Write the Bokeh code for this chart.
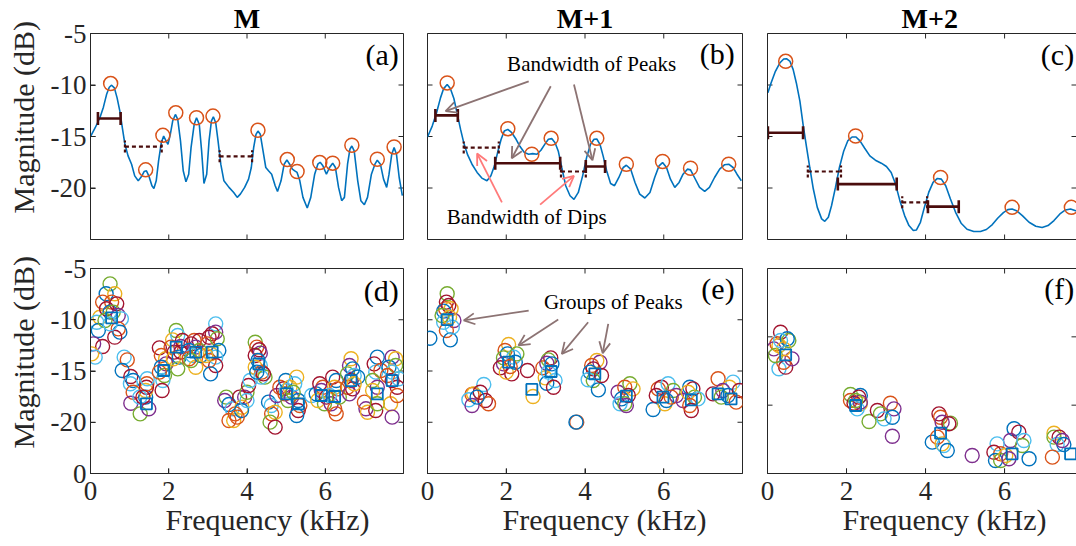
import numpy as np
from bokeh.plotting import figure
from bokeh.models import Range1d, LinearAxis, FixedTicker, Label, Arrow, OpenHead, Title
from bokeh.layouts import column, row
from bokeh.embed import file_html
from bokeh.resources import INLINE

# ---------------- data ----------------
X_TICKS = [0, 2, 4, 6]
X_TICK_LABELS = ["0", "2", "4", "6"]
Y_TICKS_TOP = [-20, -15, -10, -5]
Y_TICK_LABELS_TOP = ["-20", "-15", "-10", "-5"]
Y_TICKS_BOTTOM = [-25, -20, -15, -10, -5]
Y_TICK_LABELS_BOTTOM = ["0", "-20", "-15", "-10", "-5"]
Y_TICKS_F = [-20, -10]

# panel (a): spectrum at M
A_FREQ = [0.01, 0.12, 0.24, 0.33, 0.41, 0.48, 0.54, 0.61, 0.68, 0.75, 0.82, 0.88, 0.96, 1.05, 1.13,
          1.22, 1.30, 1.37, 1.43, 1.49, 1.57, 1.62, 1.68, 1.74, 1.81, 1.87, 1.93, 1.98, 2.04, 2.10,
          2.17, 2.23, 2.30, 2.37, 2.44, 2.51, 2.57, 2.65, 2.71, 2.78, 2.84, 2.90, 2.97, 3.03, 3.09,
          3.14, 3.20, 3.26, 3.33, 3.41, 3.54, 3.66, 3.75, 3.83, 3.94, 4.04, 4.11, 4.17, 4.23, 4.28,
          4.34, 4.41, 4.48, 4.55, 4.63, 4.72, 4.78, 4.87, 4.95, 5.02, 5.09, 5.16, 5.22, 5.28, 5.35,
          5.43, 5.54, 5.63, 5.73, 5.81, 5.87, 5.94, 6.03, 6.11, 6.19, 6.26, 6.34, 6.42, 6.49, 6.57,
          6.63, 6.68, 6.74, 6.83, 6.91, 7.00, 7.08, 7.18, 7.27, 7.33, 7.41, 7.49, 7.57, 7.63, 7.70,
          7.76, 7.82, 7.89, 7.97]
A_MAG = [-14.95, -14.15, -13.18, -12.15, -10.93, -10.22, -10.02, -10.28, -11.25, -12.54, -14.31, -15.76,
         -16.88, -17.69, -18.82, -19.30, -18.91, -18.40, -18.33, -18.82, -19.78, -20.04, -19.30, -17.37,
         -15.60, -14.95, -15.43, -15.76, -14.79, -13.50, -12.86, -13.34, -15.43, -18.33, -19.40, -18.66,
         -16.08, -13.82, -13.18, -13.82, -16.40, -19.56, -18.66, -15.43, -13.50, -13.08, -13.66, -15.43,
         -17.69, -19.30, -19.94, -20.43, -20.91, -20.59, -19.94, -19.14, -18.01, -16.08, -14.79, -14.47,
         -14.79, -16.40, -18.01, -18.33, -18.66, -19.78, -20.33, -19.30, -17.69, -17.27, -17.69, -18.17,
         -18.33, -18.49, -19.30, -20.91, -21.94, -20.91, -18.66, -17.69, -17.50, -17.85, -18.66, -18.01,
         -17.59, -18.01, -19.94, -21.23, -20.91, -17.69, -16.24, -15.92, -16.40, -19.30, -21.23, -21.62,
         -20.91, -18.66, -17.69, -17.30, -17.69, -19.14, -19.94, -18.66, -16.72, -16.08, -16.72, -18.98,
         -20.75]
A_PEAK_FREQ = [0.515, 1.41, 1.85, 2.18, 2.71, 3.13, 4.28, 5.03, 5.28, 5.86, 6.19, 6.68, 7.33, 7.76]
A_PEAK_MAG = [-9.86, -18.24, -14.89, -12.70, -13.18, -13.02, -14.40, -17.24, -18.40, -17.53, -17.59,
              -15.85, -17.21, -16.01]
A_PEAKBW_START = [0.19]
A_PEAKBW_END = [0.77]
A_PEAKBW_LEVEL = [-13.25]
A_DIPBW_START = [0.88, 3.30]
A_DIPBW_END = [1.82, 4.13]
A_DIPBW_LEVEL = [-15.98, -16.92]

# panel (b): spectrum at M+1
B_FREQ = [0.00, 0.12, 0.23, 0.33, 0.41, 0.50, 0.58, 0.67, 0.75, 0.84, 0.92, 1.02, 1.13, 1.26, 1.38,
          1.51, 1.61, 1.70, 1.78, 1.87, 1.95, 2.04, 2.14, 2.25, 2.35, 2.46, 2.57, 2.67, 2.78, 2.88,
          2.99, 3.07, 3.16, 3.24, 3.32, 3.41, 3.51, 3.62, 3.72, 3.83, 3.94, 4.04, 4.14, 4.23, 4.30,
          4.38, 4.46, 4.55, 4.65, 4.75, 4.86, 4.97, 5.05, 5.16, 5.27, 5.39, 5.52, 5.65, 5.77, 5.88,
          5.97, 6.07, 6.17, 6.28, 6.39, 6.49, 6.60, 6.68, 6.78, 6.91, 7.04, 7.16, 7.29, 7.42, 7.54,
          7.65, 7.76, 7.86, 7.97]
B_MAG = [-15.05, -13.99, -12.70, -11.25, -10.35, -9.96, -10.35, -11.31, -12.70, -14.31, -15.60, -16.79,
         -17.69, -18.49, -19.04, -19.30, -18.82, -17.85, -16.56, -15.27, -14.47, -14.31, -14.63, -15.27,
         -15.98, -16.56, -16.72, -16.66, -16.72, -16.34, -15.69, -15.27, -15.21, -15.60, -16.40, -18.01,
         -19.78, -20.75, -21.10, -20.43, -18.82, -17.05, -15.76, -15.27, -15.24, -15.76, -16.88, -18.33,
         -19.56, -19.78, -18.98, -18.01, -17.79, -18.17, -19.46, -20.59, -20.97, -20.43, -18.98, -17.85,
         -17.53, -18.01, -19.14, -19.94, -19.46, -18.66, -18.17, -18.24, -18.98, -19.94, -20.33, -19.94,
         -18.98, -18.17, -17.75, -17.69, -18.01, -18.66, -19.30]
B_PEAK_FREQ = [0.50, 2.04, 2.65, 3.14, 4.30, 5.05, 5.97, 6.68, 7.65]
B_PEAK_MAG = [-9.80, -14.24, -16.72, -15.18, -15.18, -17.69, -17.43, -18.08, -17.69]
B_PEAKBW_START = [0.20, 1.72, 4.02]
B_PEAKBW_END = [0.77, 3.37, 4.51]
B_PEAKBW_LEVEL = [-12.95, -17.59, -17.91]
B_DIPBW_START = [0.92, 3.39]
B_DIPBW_END = [1.81, 4.02]
B_DIPBW_LEVEL = [-16.08, -18.40]

# panel (c): spectrum at M+2
C_FREQ = [0.01, 0.09, 0.20, 0.31, 0.41, 0.48, 0.57, 0.65, 0.73, 0.82, 0.90, 0.99, 1.07, 1.16, 1.26,
          1.37, 1.45, 1.54, 1.62, 1.72, 1.82, 1.93, 2.03, 2.14, 2.24, 2.34, 2.46, 2.59, 2.73, 2.88,
          3.01, 3.13, 3.24, 3.35, 3.47, 3.58, 3.69, 3.77, 3.87, 3.97, 4.08, 4.19, 4.30, 4.40, 4.51,
          4.63, 4.76, 4.90, 5.05, 5.22, 5.39, 5.54, 5.69, 5.83, 5.97, 6.08, 6.19, 6.30, 6.45, 6.62,
          6.79, 6.95, 7.10, 7.25, 7.40, 7.54, 7.67, 7.80, 7.88]
C_MAG = [-10.76, -9.80, -8.67, -7.87, -7.48, -7.45, -7.71, -8.51, -9.80, -11.57, -13.82, -16.08, -18.01,
         -20.10, -21.88, -23.00, -23.23, -22.84, -21.72, -19.94, -18.01, -16.40, -15.43, -15.05, -15.05,
         -15.43, -16.14, -16.88, -17.30, -17.59, -17.91, -18.49, -19.62, -21.23, -22.68, -23.65, -24.13,
         -24.07, -23.33, -21.88, -20.43, -19.46, -19.07, -19.14, -19.78, -21.07, -22.36, -23.42, -24.00,
         -24.23, -24.23, -24.03, -23.55, -22.91, -22.39, -22.10, -22.04, -22.20, -22.68, -23.33, -23.71,
         -23.84, -23.65, -23.16, -22.52, -22.13, -22.04, -22.20, -22.30]
C_PEAK_FREQ = [0.46, 2.23, 4.38, 6.19, 7.69]
C_PEAK_MAG = [-7.70, -14.95, -18.98, -21.88, -21.88]
C_PEAKBW_START = [0.01, 1.78, 4.06]
C_PEAKBW_END = [0.90, 3.27, 4.84]
C_PEAKBW_LEVEL = [-14.63, -19.62, -21.81]
C_DIPBW_START = [1.02, 3.41]
C_DIPBW_END = [1.86, 4.04]
C_DIPBW_LEVEL = [-18.40, -21.39]

# panel (d): peaks of all utterances at M (set = utterance colour index 1..7)
D_FREQ = [0.50, 0.40, 0.62, 0.31, 0.54, 0.67, 0.24, 0.16, 0.50, 0.41, 0.58, 0.71, 0.79, 0.71, 0.75,
          0.62, 0.20, 0.08, 0.31, 0.03, 0.12, 0.37, 0.50,
          0.86, 0.94, 0.81, 1.03, 1.09, 1.02, 1.09, 1.03, 1.27, 1.41, 1.41, 1.44, 1.43, 1.45, 1.49,
          1.26, 1.34,
          1.76, 1.81, 1.92, 1.93, 1.81, 1.89, 1.85, 1.83, 1.76,
          2.19, 2.23, 2.10, 2.06, 2.35, 2.14, 2.31, 2.27, 2.23, 2.12, 2.31,
          2.65, 2.78, 2.57, 2.69, 2.52, 2.78, 2.61, 2.69, 2.52, 2.82, 2.57,
          3.20, 3.11, 3.20, 3.03, 3.24, 2.99, 3.28, 3.07, 3.20, 3.03, 3.20, 3.07, 2.95,
          3.47, 3.43, 3.54, 3.62, 3.54, 3.66, 3.70, 3.81, 3.94, 3.87, 3.86, 4.00, 4.00, 4.04, 4.08, 3.75,
          4.21, 4.25, 4.31, 4.34, 4.21, 4.28, 4.34, 4.21, 4.38, 4.46, 4.36, 4.42, 4.25,
          4.55, 4.62, 4.63, 4.72, 4.59, 4.72, 4.76, 4.84, 4.93, 4.97, 5.01, 4.99, 5.10, 5.05, 5.14,
          5.27, 5.22, 5.31, 5.35, 5.31, 5.27, 5.18,
          5.65, 5.77, 5.86, 5.94, 5.90, 5.98, 5.81, 6.03, 6.19, 6.28, 6.24, 6.32, 6.15, 6.24, 6.28,
          6.11, 6.36,
          6.66, 6.62, 6.70, 6.57, 6.74, 6.66, 6.57, 6.70, 6.62, 6.83, 6.74,
          7.04, 7.08, 7.00, 7.33, 7.25, 7.29, 7.42, 7.21, 7.33, 7.21, 7.29, 7.33, 7.71, 7.80, 7.63,
          7.80, 7.71, 7.59, 7.71, 7.84, 7.67, 7.71, 7.84, 7.88]
D_MAG = [-6.50, -7.47, -7.47, -8.28, -8.28, -8.45, -9.75, -10.24, -9.26, -8.93, -9.26, -9.59, -9.91,
         -10.89, -11.21, -11.70, -11.05, -12.35, -12.61, -13.33, -13.65, -10.07, -10.40,
         -13.65, -13.91, -14.95, -15.54, -15.93, -16.25, -17.07, -18.14, -19.18, -17.55, -16.90, -16.25,
         -16.58, -15.76, -18.69, -17.55, -17.55,
         -12.74, -13.49, -13.81, -14.30, -14.63, -15.44, -15.93, -16.90, -15.11,
         -11.05, -11.54, -11.96, -12.67, -12.02, -13.16, -12.61, -13.65, -14.79, -13.81, -13.16,
         -12.02, -12.02, -12.35, -12.67, -13.00, -13.00, -13.49, -14.63, -13.81, -13.49, -13.98,
         -10.40, -11.37, -11.21, -11.70, -11.86, -12.35, -13.00, -13.33, -13.65, -13.98, -14.46, -15.28,
         -13.49,
         -17.55, -17.88, -18.27, -18.69, -19.83, -19.83, -19.18, -17.55, -17.55, -18.53, -18.85, -17.88,
         -17.07, -16.41, -15.93, -19.50,
         -12.19, -12.67, -12.93, -13.26, -13.49, -13.98, -14.46, -14.63, -15.11, -15.60, -15.60, -15.28,
         -15.11,
         -18.04, -18.37, -19.18, -19.02, -19.99, -20.48, -17.39, -16.58, -16.74, -17.23, -16.90, -15.93,
         -16.58, -17.88, -17.55, -15.60, -16.25, -17.88, -18.37, -18.85, -19.34, -17.07,
         -17.39, -17.23, -16.25, -16.58, -16.90, -18.20, -17.88, -17.55, -15.60, -15.93, -16.58, -16.74,
         -18.20, -18.69, -19.18, -17.39, -17.55,
         -13.81, -14.46, -14.79, -15.28, -15.44, -15.93, -16.58, -16.74, -17.23, -15.60, -16.25,
         -18.69, -19.02, -18.04, -13.65, -14.30, -15.11, -14.95, -15.93, -16.58, -16.90, -18.85, -18.20,
         -13.65, -13.81, -14.63, -14.46, -15.11, -15.44, -15.93, -16.58, -18.20, -19.50, -17.39, -15.76]
D_SET = [5, 1, 3, 2, 2, 7, 3, 6, 1, 7, 5, 4, 6, 2, 1, 7, 1, 4, 7, 3, 6, 5, 6,
         6, 2, 1, 7, 1, 6, 2, 4, 5, 1, 3, 2, 7, 6, 4, 6, 7,
         7, 2, 3, 4, 1, 5, 6, 7, 2,
         5, 6, 3, 2, 7, 7, 4, 1, 5, 3, 7,
         2, 7, 7, 4, 1, 5, 6, 3, 2, 1, 5,
         6, 7, 4, 7, 5, 2, 1, 3, 6, 2, 7, 1, 3,
         5, 4, 1, 6, 2, 3, 2, 7, 4, 3, 1, 6, 5, 7, 6, 2,
         5, 2, 7, 4, 7, 1, 6, 3, 2, 5, 6, 7, 1,
         1, 6, 2, 3, 5, 7, 4, 2, 7, 2, 6, 1, 3, 5, 4, 3, 6, 1, 2, 7, 1, 5,
         6, 1, 7, 2, 4, 5, 3, 7, 7, 1, 3, 2, 4, 2, 2, 6, 5,
         3, 4, 1, 5, 6, 7, 2, 7, 4, 1, 3,
         4, 3, 2, 1, 7, 6, 2, 5, 4, 3, 7, 5, 4, 3, 1, 5, 6, 2, 7, 7, 3, 4, 2, 6]
D_CENTER_FREQ = [0.54, 1.43, 1.87, 2.19, 2.69, 3.11, 4.30, 5.01, 5.31, 5.90, 6.24, 6.66, 7.33, 7.71]
D_CENTER_MAG = [-9.81, -18.20, -14.95, -12.67, -13.16, -13.16, -14.30, -17.23, -18.20, -17.39, -17.49,
                -15.93, -17.23, -15.93]

# panel (e): peaks of all utterances at M+1
E_FREQ = [0.06,
          0.50, 0.48, 0.46, 0.60, 0.41, 0.54, 0.67, 0.41, 0.48, 0.58, 0.37, 0.56, 0.63,
          1.43, 1.13, 1.17, 1.05, 1.13, 1.34, 1.47, 1.55, 1.26,
          2.06, 1.97, 2.03, 1.93, 1.93, 1.85, 2.19, 2.14, 2.00, 2.23, 2.10, 2.27,
          2.54, 2.68,
          3.13, 3.07, 2.93, 3.03, 2.99, 3.03, 3.24, 3.20, 3.16, 3.07,
          3.79, 3.77,
          4.38, 4.30, 4.17, 4.21, 4.13, 4.21, 4.08, 4.34, 4.42,
          4.84, 5.14, 5.01, 5.22, 4.93, 4.89, 5.10, 5.01, 5.05,
          5.73, 5.86, 5.94, 6.11, 6.24, 6.03, 6.32, 5.81, 6.07, 6.19,
          6.66, 6.74, 6.49, 6.78, 6.62, 6.87, 6.70, 6.66,
          7.38, 7.76, 7.67, 7.25, 7.50, 7.46, 7.63, 7.92, 7.84]
E_MAG = [-11.80,
         -7.47, -8.28, -8.93, -8.93, -9.16, -8.61, -10.07, -10.24, -11.05, -11.96, -9.59, -9.75, -10.72,
         -16.32, -17.29, -17.23, -17.81, -18.37, -17.07, -17.88, -18.20, -17.55,
         -12.41, -13.00, -13.33, -13.72, -14.30, -14.69, -13.65, -15.28, -15.11, -14.14, -14.56, -13.33,
         -14.95, -17.49,
         -13.72, -13.91, -14.69, -14.24, -15.67, -16.19, -15.93, -16.58, -14.30, -15.11,
         -19.99, -19.99,
         -14.14, -13.98, -14.46, -14.79, -15.11, -15.93, -15.86, -16.84, -15.44,
         -17.07, -16.25, -16.58, -16.74, -17.72, -18.20, -17.39, -18.20, -18.37,
         -18.76, -16.74, -16.58, -16.25, -16.90, -18.20, -17.39, -17.39, -17.88, -17.55,
         -16.58, -16.74, -17.88, -17.55, -17.07, -17.72, -18.85, -18.37,
         -15.76, -16.09, -16.58, -17.23, -16.90, -17.55, -17.39, -16.90, -18.04]
E_SET = [1,
         5, 7, 2, 3, 1, 7, 4, 6, 2, 1, 5, 3, 6,
         6, 2, 3, 6, 4, 7, 7, 2, 1,
         3, 2, 1, 5, 4, 7, 6, 7, 3, 1, 2, 5,
         7, 3,
         7, 5, 2, 4, 3, 1, 6, 7, 1, 6,
         2, 1,
         4, 3, 2, 7, 1, 5, 6, 1, 7,
         4, 5, 2, 3, 1, 6, 7, 5, 4,
         1, 2, 7, 6, 5, 3, 4, 7, 1, 2,
         1, 7, 4, 5, 3, 6, 7, 2,
         2, 6, 3, 7, 4, 5, 1, 7, 2]
E_CENTER_FREQ = [0.50, 2.06, 2.65, 3.14, 4.25, 5.05, 5.98, 6.70, 7.38, 7.71]
E_CENTER_MAG = [-9.98, -14.14, -16.80, -15.05, -15.28, -17.45, -17.55, -17.81, -17.23, -17.72]

# panel (f): peaks of all utterances at M+2 (axis spans -30..0)
F_FREQ = [0.33, 0.24, 0.29, 0.16, 0.54, 0.50, 0.29, 0.46, 0.41, 0.20, 0.62, 0.41, 0.33,
          2.10, 2.35, 2.10, 2.35, 2.27, 2.31, 2.19, 2.35, 2.23,
          2.57, 2.78, 3.11, 3.20, 2.86, 2.95, 3.16, 3.16,
          4.34, 4.38, 4.42, 4.63, 4.59, 4.17, 4.30, 4.42, 4.46, 4.55,
          5.18,
          6.24, 6.36, 6.15, 6.45, 5.81, 5.90, 5.73, 5.77, 5.90, 6.03, 6.49, 6.62, 6.11,
          7.25, 7.25, 7.38, 7.33, 7.50, 7.46, 7.21]
F_MAG = [-9.32, -11.02, -11.27, -11.76, -10.54, -10.29, -14.68, -14.44, -13.71, -12.73, -13.22, -11.76,
         -10.54,
         -18.44, -18.59, -19.32, -19.80, -20.54, -18.83, -19.71, -19.56, -19.32,
         -22.39, -20.78, -19.71, -20.54, -21.27, -22.00, -21.76, -24.54,
         -21.27, -21.76, -22.49, -22.63, -22.73, -25.41, -24.68, -25.66, -25.90, -26.63,
         -27.37,
         -23.46, -23.95, -25.17, -25.90, -25.66, -27.12, -26.88, -28.10, -28.10, -27.37, -25.17, -27.85,
         -27.85,
         -24.10, -24.68, -24.68, -25.76, -25.76, -25.17, -27.61]
F_SET = [7, 2, 3, 4, 5, 1, 6, 7, 2, 5, 4, 3, 6,
         5, 1, 2, 3, 6, 7, 7, 4, 5,
         5, 7, 2, 4, 5, 6, 1, 4,
         7, 2, 4, 5, 7, 1, 2, 3, 6, 1,
         4,
         1, 7, 4, 5, 6, 2, 7, 1, 5, 3, 6, 1, 4,
         3, 5, 7, 6, 1, 4, 2]
F_CENTER_FREQ = [0.46, 2.23, 4.38, 6.19, 7.67]
F_CENTER_MAG = [-12.63, -20.05, -24.10, -27.12, -27.12]

# ---------------- style ----------------
FONT = "Liberation Serif"
AXC = "#262626"
CURVE = "#0072BD"
PEAKC = "#D95319"
BWC = "#4A0C0C"
ARROW_GRAY = "#8C7373"
ARROW_PINK = "#FF7A7A"
SET_COLORS = ["#0072BD", "#D95319", "#EDB120", "#7E2F8E", "#77AC30", "#4DBEEE", "#A2142F"]
TICK_FONT = "27px"
LABEL_FONT = "30px"


def labelled_axis(ticks, labels, standoff):
    ax = LinearAxis(ticker=FixedTicker(ticks=ticks))
    ax.major_label_overrides = dict(zip(ticks, labels))
    ax.axis_line_color = AXC
    ax.major_tick_line_color = AXC
    ax.major_tick_in = 5
    ax.major_tick_out = 0
    ax.minor_tick_line_color = None
    ax.major_label_text_font = FONT
    ax.major_label_text_font_size = TICK_FONT
    ax.major_label_text_color = AXC
    ax.major_label_standoff = standoff
    return ax


def edge_line():
    # plain frame edge: an axis with no ticks and therefore no labels
    ax = LinearAxis(ticker=FixedTicker(ticks=[]))
    ax.axis_line_color = AXC
    ax.major_tick_line_color = None
    ax.minor_tick_line_color = None
    ax.major_label_standoff = 0
    ax.major_tick_out = 0
    ax.major_tick_in = 0
    return ax


def make_panel(width, height, bl, br, bt, bb, x_end, y_rng, yticks, title=None, title_align="center",
               title_offset=0, open_right=False):
    p = figure(width=width, height=height, x_range=Range1d(0, x_end), y_range=Range1d(*y_rng),
               output_backend="svg", toolbar_location=None, x_axis_location=None,
               y_axis_location=None, min_border_left=bl, min_border_right=br,
               min_border_top=bt, min_border_bottom=bb)
    p.grid.visible = False
    p.background_fill_color = "white"
    p.border_fill_color = "white"
    if open_right:
        p.outline_line_color = None
        p.add_layout(edge_line(), "left")
        p.add_layout(edge_line(), "above")
        p.add_layout(edge_line(), "below")
    else:
        p.outline_line_color = AXC
        p.outline_line_width = 1
    if title is not None:
        p.title.text = title
        p.title.text_font = FONT
        p.title.text_font_size = "28px"
        p.title.text_font_style = "bold"
        p.title.text_color = "black"
        p.title.align = title_align
        p.title.offset = title_offset
        p.title.standoff = 0
    # inward tick marks on the frame edges (markers are clipped by the frame, so half shows)
    n = len(X_TICKS)
    m = len(yticks)
    p.scatter(X_TICKS, [y_rng[1]] * n, marker="dash", angle=np.pi / 2, size=10, line_color=AXC,
              line_width=1)
    p.scatter(X_TICKS, [y_rng[0]] * n, marker="dash", angle=np.pi / 2, size=10, line_color=AXC,
              line_width=1)
    p.scatter([0] * m, yticks, marker="dash", size=10, line_color=AXC, line_width=1)
    p.scatter([x_end] * m, yticks, marker="dash", size=10, line_color=AXC, line_width=1)
    return p


def add_text(p, x, y, text, size, align="center"):
    p.add_layout(Label(x=x, y=y, text=text, text_font=FONT, text_font_size=size,
                       text_align=align, text_baseline="middle", text_color="black"))


def add_ylabel(p, offset):
    p.add_layout(Title(text="Magnitude (dB)", text_font=FONT, text_font_size=LABEL_FONT,
                       text_font_style="normal", text_color=AXC, align="left", offset=offset,
                       vertical_align="top", standoff=12), "left")


def add_xlabel(p, offset):
    p.add_layout(Title(text="Frequency (kHz)", text_font=FONT, text_font_size=LABEL_FONT,
                       text_font_style="normal", text_color=AXC, align="left", offset=offset,
                       vertical_align="top", standoff=0), "below")


def draw_spectrum(p, freq, mag, pk_f, pk_m, pbs, pbe, pbl, dbs, dbe, dbl):
    p.line(freq, mag, line_color=CURVE, line_width=1.6)
    p.segment(x0=dbs, y0=dbl, x1=dbe, y1=dbl, line_color=BWC, line_width=2.2, line_dash="4 3")
    p.scatter(x=dbs + dbe, y=dbl + dbl, marker="dash", angle=np.pi / 2, size=12,
              line_color=BWC, line_width=2.2, line_dash="3 2")
    p.segment(x0=pbs, y0=pbl, x1=pbe, y1=pbl, line_color=BWC, line_width=2.6)
    p.scatter(x=pbs + pbe, y=pbl + pbl, marker="dash", angle=np.pi / 2, size=13,
              line_color=BWC, line_width=2.6)
    p.scatter(pk_f, pk_m, marker="circle", size=14, fill_color=None, line_color=PEAKC,
              line_width=1.5)


def draw_groups(p, freq, mag, sets, cf, cm):
    colors = [SET_COLORS[s - 1] for s in sets]
    p.scatter(freq, mag, marker="circle", size=14, fill_color=None, line_color=colors,
              line_width=1.4)
    p.scatter(cf, cm, marker="square", size=11, fill_color=None, line_color=SET_COLORS[0],
              line_width=1.8)


TOP_H, BOT_H = 250, 296
W_A, W_B, W_C = 415, 340, 321
XEND_C = 7.82

pa = make_panel(W_A, TOP_H, 87, 12, 32, 11, 8, (-25, -5), Y_TICKS_TOP, title="M")
pb = make_panel(W_B, TOP_H, 12, 13, 32, 11, 8, (-25, -5), Y_TICKS_TOP, title="M+1")
pc = make_panel(W_C, TOP_H, 12, 0, 32, 11, XEND_C, (-25, -5), Y_TICKS_TOP, title="M+2",
                title_align="left", title_offset=134, open_right=True)
pd_ = make_panel(W_A, BOT_H, 87, 12, 18, 73, 8, (-25, -5), Y_TICKS_BOTTOM)
pe = make_panel(W_B, BOT_H, 12, 13, 18, 73, 8, (-25, -5), Y_TICKS_BOTTOM)
pf = make_panel(W_C, BOT_H, 12, 0, 18, 73, XEND_C, (-30, 0), Y_TICKS_F, open_right=True)

# labelled axes
pa.add_layout(labelled_axis(Y_TICKS_TOP, Y_TICK_LABELS_TOP, 4), "left")
pd_.add_layout(labelled_axis(Y_TICKS_BOTTOM, Y_TICK_LABELS_BOTTOM, 4), "left")
for p in (pd_, pe, pf):
    p.add_layout(labelled_axis(X_TICKS, X_TICK_LABELS, 8), "below")
add_ylabel(pa, 26)
add_ylabel(pd_, 25)
add_xlabel(pd_, 75)
add_xlabel(pe, 75)
add_xlabel(pf, 75)

draw_spectrum(pa, A_FREQ, A_MAG, A_PEAK_FREQ, A_PEAK_MAG, A_PEAKBW_START, A_PEAKBW_END,
              A_PEAKBW_LEVEL, A_DIPBW_START, A_DIPBW_END, A_DIPBW_LEVEL)
draw_spectrum(pb, B_FREQ, B_MAG, B_PEAK_FREQ, B_PEAK_MAG, B_PEAKBW_START, B_PEAKBW_END,
              B_PEAKBW_LEVEL, B_DIPBW_START, B_DIPBW_END, B_DIPBW_LEVEL)
draw_spectrum(pc, C_FREQ, C_MAG, C_PEAK_FREQ, C_PEAK_MAG, C_PEAKBW_START, C_PEAKBW_END,
              C_PEAKBW_LEVEL, C_DIPBW_START, C_DIPBW_END, C_DIPBW_LEVEL)
draw_groups(pd_, D_FREQ, D_MAG, D_SET, D_CENTER_FREQ, D_CENTER_MAG)
draw_groups(pe, E_FREQ, E_MAG, E_SET, E_CENTER_FREQ, E_CENTER_MAG)
draw_groups(pf, F_FREQ, F_MAG, F_SET, F_CENTER_FREQ, F_CENTER_MAG)

# panel letters
add_text(pa, 7.88, -7.06, "(a)", "30px", align="right")
add_text(pb, 7.80, -6.95, "(b)", "30px", align="right")
add_text(pc, 7.76, -7.06, "(c)", "30px", align="right")
add_text(pd_, 7.88, -7.15, "(d)", "30px", align="right")
add_text(pe, 7.80, -6.98, "(e)", "30px", align="right")
add_text(pf, 7.76, -2.98, "(f)", "30px", align="right")

# annotations in (b)
add_text(pb, 4.17, -7.93, "Bandwidth of Peaks", "21px")
add_text(pb, 2.52, -22.84, "Bandwidth of Dips", "21px")
for xs, ys, xe, ye in [(2.57, -9.64, 0.46, -12.54), (3.13, -10.12, 2.14, -17.11),
                       (3.72, -9.96, 4.19, -17.30)]:
    pb.add_layout(Arrow(end=OpenHead(size=11, line_color=ARROW_GRAY, line_width=1.8),
                        x_start=xs, y_start=ys, x_end=xe, y_end=ye,
                        line_color=ARROW_GRAY, line_width=1.8))
for xs, ys, xe, ye in [(1.89, -21.39, 1.26, -16.66), (2.86, -21.62, 3.72, -18.82)]:
    pb.add_layout(Arrow(end=OpenHead(size=11, line_color=ARROW_PINK, line_width=1.8),
                        x_start=xs, y_start=ys, x_end=xe, y_end=ye,
                        line_color=ARROW_PINK, line_width=1.8))

# annotations in (e)
add_text(pe, 4.72, -8.28, "Groups of Peaks", "21px")
for xs, ys, xe, ye in [(2.57, -9.10, 0.92, -10.07), (3.32, -9.98, 2.31, -12.51),
                       (4.08, -10.24, 3.41, -13.33), (4.59, -10.40, 4.45, -13.26)]:
    pe.add_layout(Arrow(end=OpenHead(size=11, line_color=ARROW_GRAY, line_width=1.8),
                        x_start=xs, y_start=ys, x_end=xe, y_end=ye,
                        line_color=ARROW_GRAY, line_width=1.8))

layout = column(row(pa, pb, pc), row(pd_, pe, pf))
open("out.html", "w").write(file_html(layout, INLINE))
